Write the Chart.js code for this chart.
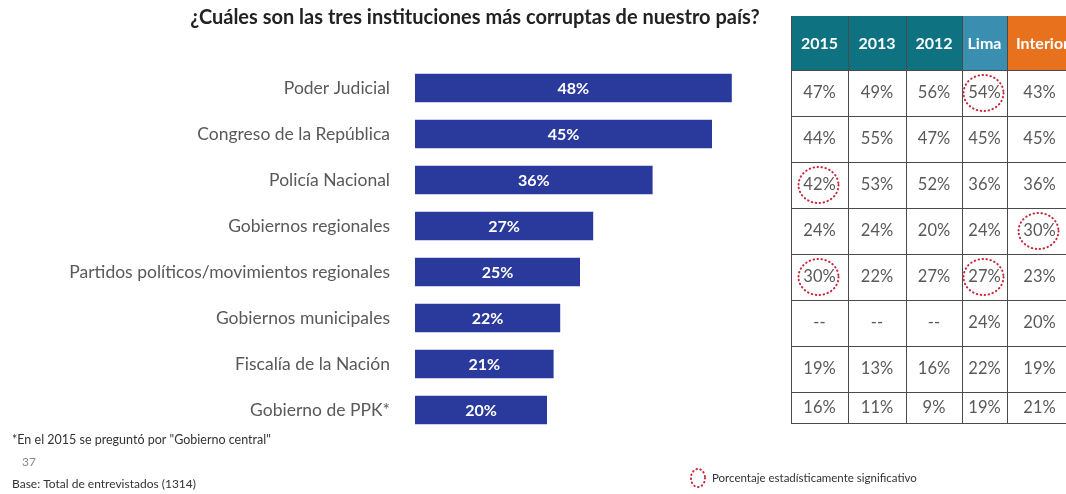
<!DOCTYPE html>
<html>
<head>
<meta charset="utf-8">
<script src="https://cdn.jsdelivr.net/npm/chart.js@4.4.1/dist/chart.umd.min.js"></script>
<style>
  html, body { margin: 0; padding: 0; background: #fff; }
  #wrap { width: 1066px; height: 494px; position: relative; }
</style>
</head>
<body>
<div id="wrap"><canvas id="chart-corrupcion"></canvas></div>
<script>
'use strict';

/* ── Data ─────────────────────────────────────────────────────── */
const categories = [
    'Poder Judicial',
    'Congreso de la República',
    'Policía Nacional',
    'Gobiernos regionales',
    'Partidos políticos/movimientos regionales',
    'Gobiernos municipales',
    'Fiscalía de la Nación',
    'Gobierno de PPK*'
];
const values2017 = [48, 45, 36, 27, 25, 22, 21, 20];

// comparison table (null = "--")
const tableHeaders = ['2015', '2013', '2012', 'Lima', 'Interior'];
const col2015 = [47, 44, 42, 24, 30, null, 19, 16];
const col2013 = [49, 55, 53, 24, 22, null, 13, 11];
const col2012 = [56, 47, 52, 20, 27, null, 16, 9];
const colLima = [54, 45, 36, 24, 27, 24, 22, 19];
const colInterior = [43, 45, 36, 30, 23, 20, 19, 21];
// statistically significant cells: [row, column]
const significant = [[0, 3], [2, 0], [3, 4], [4, 0], [4, 3]];

const FONT = 'Lato, "Open Sans", sans-serif';
const BAR_COLOR = '#2a3a9c';
const GRAY = '#595959';

/* ── Bar value labels ─────────────────────────────────────────── */
const barLabels = {
    id: 'barLabels',
    afterDatasetsDraw(chart) {
        const { ctx } = chart;
        const meta = chart.getDatasetMeta(0);
        ctx.save();
        ctx.fillStyle = '#fff';
        ctx.font = 'bold 16px ' + FONT;
        ctx.textAlign = 'center';
        ctx.textBaseline = 'middle';
        meta.data.forEach((bar, i) => {
            const x = (bar.base + bar.x) / 2;
            ctx.fillText(values2017[i] + '%', x, bar.y + 1);
        });
        ctx.restore();
    }
};

/* ── Side table + titles/footnotes ────────────────────────────── */
const sideTable = {
    id: 'sideTable',
    afterDraw(chart) {
        const { ctx } = chart;
        const y = chart.scales.y;
        const cols = [col2015, col2013, col2012, colLima, colInterior];
        const xEdges = [791, 848, 906, 962, 1007, 1078];
        const headerFill = ['#0f7280', '#0f7280', '#0f7280', '#3a8fb0', '#e8711e'];
        const headTop = 16;
        const step = y.getPixelForValue(1) - y.getPixelForValue(0);
        const rowEdges = categories.map((_, i) => y.getPixelForValue(i) - step / 2 + 5);
        rowEdges.push(y.getPixelForValue(categories.length - 1) + 13);

        ctx.save();
        // header
        tableHeaders.forEach((h, c) => {
            ctx.fillStyle = headerFill[c];
            ctx.fillRect(xEdges[c], headTop, xEdges[c + 1] - xEdges[c], rowEdges[0] - headTop);
            ctx.fillStyle = '#fff';
            ctx.font = 'bold 16px ' + FONT;
            ctx.textAlign = 'center';
            ctx.textBaseline = 'middle';
            ctx.fillText(h, (xEdges[c] + xEdges[c + 1]) / 2, (headTop + rowEdges[0]) / 2 + 1);
        });

        // grid lines
        ctx.strokeStyle = '#4a4a4a';
        ctx.lineWidth = 1;
        ctx.beginPath();
        xEdges.slice(0, 5).forEach(x => {
            ctx.moveTo(x + 0.5, headTop);
            ctx.lineTo(x + 0.5, rowEdges[rowEdges.length - 1]);
        });
        rowEdges.forEach(r => {
            ctx.moveTo(xEdges[0], Math.round(r) + 0.5);
            ctx.lineTo(1066, Math.round(r) + 0.5);
        });
        ctx.stroke();

        // cells
        ctx.fillStyle = GRAY;
        ctx.font = '16.5px ' + FONT;
        cols.forEach((col, c) => {
            const cx = (xEdges[c] + Math.min(xEdges[c + 1], 1072)) / 2;
            col.forEach((v, r) => {
                const cy = (rowEdges[r] + rowEdges[r + 1]) / 2;
                ctx.fillText(v === null ? '--' : v + '%', cx, cy);
            });
        });

        // significance circles
        const dotted = (cx, cy, rx, ry) => {
            ctx.save();
            ctx.strokeStyle = '#c8283c';
            ctx.lineWidth = 2;
            ctx.lineCap = 'round';
            ctx.setLineDash([0.5, 3.5]);
            ctx.beginPath();
            ctx.ellipse(cx, cy, rx, ry, 0, 0, Math.PI * 2);
            ctx.stroke();
            ctx.restore();
        };
        significant.forEach(([r, c]) => {
            const cx = (xEdges[c] + Math.min(xEdges[c + 1], 1072)) / 2 - 1;
            const cy = (rowEdges[r] + rowEdges[r + 1]) / 2;
            dotted(cx, cy, 20, 18);
        });

        // title
        ctx.fillStyle = '#222';
        ctx.font = 'bold 20px ' + FONT;
        ctx.textAlign = 'center';
        ctx.fillText('¿Cuáles son las tres instituciones más corruptas de nuestro país?', 475, 18);

        // footnotes
        ctx.textAlign = 'left';
        ctx.font = '12.5px ' + FONT;
        ctx.fillStyle = '#333';
        ctx.fillText('*En el 2015 se preguntó por "Gobierno central"', 12, 440);
        ctx.fillStyle = '#888';
        ctx.font = '12px ' + FONT;
        ctx.fillText('37', 22, 462);
        ctx.fillStyle = '#333';
        ctx.fillText('Base: Total de entrevistados (1314)', 12, 484);

        // legend for circles
        dotted(698, 478, 7, 9);
        ctx.font = '11.5px ' + FONT;
        ctx.fillStyle = '#333';
        ctx.fillText('Porcentaje estadísticamente significativo', 712, 478);
        ctx.restore();
    }
};

/* ── Chart ────────────────────────────────────────────────────── */
const config = {
    type: 'bar',
    data: {
        labels: categories,
        datasets: [{
            data: values2017,
            backgroundColor: BAR_COLOR,
            borderWidth: 0,
            barPercentage: 0.62,
            categoryPercentage: 1
        }]
    },
    options: {
        indexAxis: 'y',
        responsive: true, maintainAspectRatio: false,
        animation: false,
        layout: { padding: { left: 0, right: 321, top: 65, bottom: 61 } },
        scales: {
            x: { display: false, min: 0, max: 50 },
            y: {
                grid: { display: false },
                border: { display: false },
                ticks: { color: GRAY, padding: 17, font: { family: FONT, size: 17.5 } },
                afterFit: s => { s.width = 415; }
            }
        },
        plugins: {
            legend: { display: false },
            tooltip: { enabled: false }
        }
    },
    plugins: [barLabels, sideTable]
};

new Chart(document.getElementById('chart-corrupcion'), config);
</script>
</body>
</html>
